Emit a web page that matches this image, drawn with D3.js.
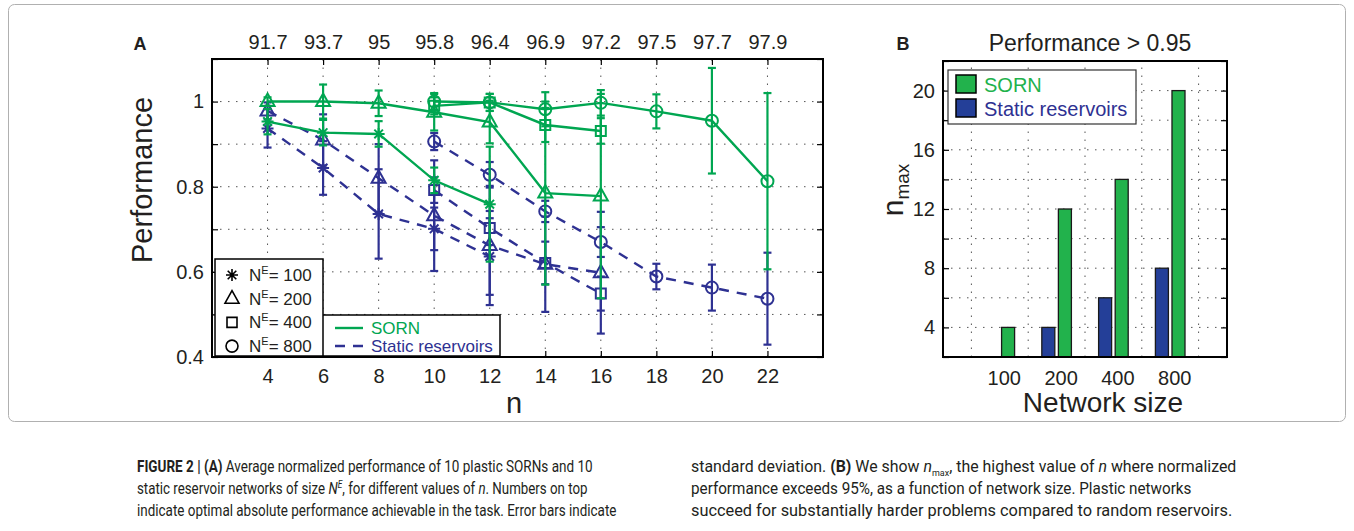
<!DOCTYPE html>
<html>
<head>
<meta charset="utf-8">
<script src="https://cdn.jsdelivr.net/npm/d3@7"></script>
<style>
  body { margin: 0; background: #fff; }
  svg text { font-family: "Liberation Sans", Arial, sans-serif; fill: #231f20; }
</style>
</head>
<body>
<script>
// ---- panel A data ----
var nTicks = [4, 6, 8, 10, 12, 14, 16, 18, 20, 22];
var optimalLabels = ["91.7", "93.7", "95", "95.8", "96.4", "96.9", "97.2", "97.5", "97.7", "97.9"];

var sornN100 = [4, 6, 8, 10, 12];
var sornPerf100 = [0.953, 0.927, 0.924, 0.815, 0.759];
var sornErr100 = [0.03, 0.03, 0.03, 0.03, 0.135];

var sornN200 = [4, 6, 8, 10, 12, 14, 16];
var sornPerf200 = [1.0, 1.0, 0.996, 0.975, 0.952, 0.785, 0.778];
var sornErr200 = [0.01, 0.04, 0.03, 0.043, 0.05, 0.215, 0.24];

var sornN400 = [10, 12, 14, 16];
var sornPerf400 = [0.99, 0.998, 0.945, 0.931];
var sornErr400 = [0.02, 0.02, 0.04, 0.03];

var sornN800 = [10, 12, 14, 16, 18, 20, 22];
var sornPerf800 = [1.0, 0.998, 0.982, 0.997, 0.977, 0.955, 0.813];
var sornErr800 = [0.02, 0.02, 0.04, 0.03, 0.04, 0.124, 0.207];

var staticN100 = [4, 6, 8, 10, 12];
var staticPerf100 = [0.937, 0.844, 0.736, 0.701, 0.636];
var staticErr100 = [0.045, 0.063, 0.105, 0.05, 0.09];

var staticN200 = [4, 6, 8, 10, 12, 14, 16];
var staticPerf200 = [0.978, 0.91, 0.82, 0.732, 0.662, 0.618, 0.598];
var staticErr200 = [0.02, 0.06, 0.08, 0.13, 0.14, 0.112, 0.143];

var staticN400 = [10, 12, 14, 16];
var staticPerf400 = [0.792, 0.703, 0.621, 0.549];
var staticErr400 = [0.03, 0.04, 0.05, 0.04];

var staticN800 = [10, 12, 14, 16, 18, 20, 22];
var staticPerf800 = [0.906, 0.828, 0.742, 0.670, 0.589, 0.563, 0.537];
var staticErr800 = [0.02, 0.03, 0.025, 0.035, 0.03, 0.054, 0.108];

// ---- panel B data ----
var networkSizes = ["100", "200", "400", "800"];
var nmaxSorn = [4, 12, 14, 20];
var nmaxStatic = [2, 4, 6, 8];

var green = "#00a651", blue = "#2e3192";
var barGreen = "#22b24c", barBlue = "#243f98";

var svg = d3.select("body").append("svg")
    .attr("width", 1354).attr("height", 531);

function rows(n, p, e) { return n.map(function(d, i) { return {n: d, p: p[i], e: e[i]}; }); }

var seriesA = [
  {net: 100, kind: "static", data: rows(staticN100, staticPerf100, staticErr100)},
  {net: 200, kind: "static", data: rows(staticN200, staticPerf200, staticErr200)},
  {net: 400, kind: "static", data: rows(staticN400, staticPerf400, staticErr400)},
  {net: 800, kind: "static", data: rows(staticN800, staticPerf800, staticErr800)},
  {net: 100, kind: "sorn", data: rows(sornN100, sornPerf100, sornErr100)},
  {net: 200, kind: "sorn", data: rows(sornN200, sornPerf200, sornErr200)},
  {net: 400, kind: "sorn", data: rows(sornN400, sornPerf400, sornErr400)},
  {net: 800, kind: "sorn", data: rows(sornN800, sornPerf800, sornErr800)}
];

function marker(net) {
  if (net == 100) return "M-6,0L6,0M0,-6L0,6M-4.3,-4.3L4.3,4.3M-4.3,4.3L4.3,-4.3";
  if (net == 200) return "M0,-8L7,4.5L-7,4.5Z";
  if (net == 400) return "M-5,-5h10v10h-10Z";
  return "M6,0A6,6 0 1,1 -6,0A6,6 0 1,1 6,0Z";
}

// frame round the figure
svg.append("rect").attr("x", 8.5).attr("y", 4.5).attr("width", 1337).attr("height", 417)
    .attr("rx", 6).attr("fill", "none").attr("stroke", "#b0b0b0").attr("stroke-width", 1);

// ================= panel A =================
var xA = d3.scaleLinear().domain([2, 24]).range([212, 823]);
var yA = d3.scaleLinear().domain([0.4, 1.1]).range([357, 59]);
var gA = svg.append("g");

var yGrid = d3.range(0.5, 1.05, 0.1);
gA.selectAll(".hg").data(yGrid).enter().append("line")
    .attr("x1", xA(2)).attr("x2", xA(24))
    .attr("y1", d => yA(d)).attr("y2", d => yA(d))
    .attr("stroke", "#555").attr("stroke-width", 1).attr("stroke-dasharray", "1.5,6.5");
gA.selectAll(".vg").data(nTicks).enter().append("line")
    .attr("x1", d => xA(d)).attr("x2", d => xA(d))
    .attr("y1", yA(0.4)).attr("y2", yA(1.1))
    .attr("stroke", "#555").attr("stroke-width", 1).attr("stroke-dasharray", "1.5,6.5");

// axes
gA.append("g").attr("transform", "translate(0," + yA(0.4) + ")")
    .call(d3.axisBottom(xA).tickValues(nTicks).tickSize(-6).tickPadding(12))
    .call(g => g.select(".domain").remove());
gA.append("g").attr("transform", "translate(0," + yA(1.1) + ")")
    .call(d3.axisTop(xA).tickValues(nTicks).tickSize(-6).tickPadding(10)
        .tickFormat((d, i) => optimalLabels[i]))
    .call(g => g.select(".domain").remove());
gA.append("g").attr("transform", "translate(" + xA(2) + ",0)")
    .call(d3.axisLeft(yA).tickValues(d3.range(0.4, 1.15, 0.1)).tickSize(-6).tickPadding(8)
        .tickFormat(d => (Math.round(d * 10) % 2 == 0 && d < 1.05) ? d3.format("~g")(+d.toFixed(1)) : ""))
    .call(g => g.select(".domain").remove());
gA.append("g").attr("transform", "translate(" + xA(24) + ",0)")
    .call(d3.axisRight(yA).tickValues(d3.range(0.4, 1.15, 0.1)).tickSize(-6).tickFormat(""))
    .call(g => g.select(".domain").remove());
gA.selectAll(".tick text").attr("font-size", 20).attr("fill", "#231f20");
gA.selectAll(".tick line").attr("stroke", "#000").attr("stroke-width", 1.2);

gA.append("rect").attr("x", xA(2)).attr("y", yA(1.1))
    .attr("width", xA(24) - xA(2)).attr("height", yA(0.4) - yA(1.1))
    .attr("fill", "none").attr("stroke", "#000").attr("stroke-width", 2);

// series
var line = d3.line().x(d => xA(d.n)).y(d => yA(d.p));
seriesA.forEach(function(s) {
  var col = s.kind == "sorn" ? green : blue;
  var g = gA.append("g");
  g.append("path").datum(s.data).attr("d", line).attr("fill", "none")
      .attr("stroke", col).attr("stroke-width", 2.4)
      .attr("stroke-dasharray", s.kind == "sorn" ? null : "10,8");
  var eb = g.selectAll(".eb").data(s.data).enter().append("g");
  eb.append("line").attr("x1", d => xA(d.n)).attr("x2", d => xA(d.n))
      .attr("y1", d => yA(d.p - d.e)).attr("y2", d => yA(d.p + d.e))
      .attr("stroke", col).attr("stroke-width", 2.2);
  [-1, 1].forEach(function(sg) {
    eb.append("line").attr("x1", d => xA(d.n) - 4).attr("x2", d => xA(d.n) + 4)
        .attr("y1", d => yA(d.p + sg * d.e)).attr("y2", d => yA(d.p + sg * d.e))
        .attr("stroke", col).attr("stroke-width", 2.2);
  });
  g.selectAll(".mk").data(s.data).enter().append("path")
      .attr("transform", d => "translate(" + xA(d.n) + "," + yA(d.p) + ")")
      .attr("d", marker(s.net)).attr("fill", "none")
      .attr("stroke", col).attr("stroke-width", 2);
});

// legends of panel A
var leg2 = gA.append("g");
leg2.append("rect").attr("x", 300).attr("y", 315).attr("width", 200).attr("height", 41)
    .attr("fill", "#fff").attr("stroke", "#000").attr("stroke-width", 1.5);
leg2.append("line").attr("x1", 335).attr("x2", 363).attr("y1", 328).attr("y2", 328)
    .attr("stroke", green).attr("stroke-width", 2.4);
leg2.append("line").attr("x1", 335).attr("x2", 363).attr("y1", 346).attr("y2", 346)
    .attr("stroke", blue).attr("stroke-width", 2.4).attr("stroke-dasharray", "10,8");
leg2.append("text").attr("x", 371).attr("y", 334).attr("font-size", 17).style("fill", green).text("SORN");
leg2.append("text").attr("x", 371).attr("y", 352).attr("font-size", 17).style("fill", blue).text("Static reservoirs");

var leg1 = gA.append("g");
leg1.append("rect").attr("x", 215).attr("y", 259).attr("width", 108).attr("height", 97)
    .attr("fill", "#fff").attr("stroke", "#000").attr("stroke-width", 1.5);
[100, 200, 400, 800].forEach(function(net, i) {
  var y = 275 + i * 23.7;
  leg1.append("path").attr("transform", "translate(232," + y + ")")
      .attr("d", marker(net)).attr("fill", "none").attr("stroke", "#000").attr("stroke-width", 1.6);
  var t = leg1.append("text").attr("x", 249).attr("y", y + 6).attr("font-size", 17);
  t.append("tspan").text("N");
  t.append("tspan").attr("font-size", 11).attr("dy", -7).text("E");
  t.append("tspan").attr("dy", 7).text("= " + net);
});

gA.append("text").attr("x", 514).attr("y", 413).attr("text-anchor", "middle")
    .attr("font-size", 29).text("n");
gA.append("text").attr("transform", "translate(152,180) rotate(-90)")
    .attr("text-anchor", "middle").attr("font-size", 29).text("Performance");
svg.append("text").attr("x", 140).attr("y", 50).attr("text-anchor", "middle")
    .attr("font-size", 18).attr("font-weight", "bold").text("A");

// ================= panel B =================
var xB = d3.scaleLinear().domain([0, 5]).range([943, 1227]);
var yB = d3.scaleLinear().domain([2, 22]).range([357, 61]);
var gB = svg.append("g");

gB.selectAll(".hg").data(d3.range(4, 21, 2)).enter().append("line")
    .attr("x1", xB(0)).attr("x2", xB(5)).attr("y1", d => yB(d)).attr("y2", d => yB(d))
    .attr("stroke", "#555").attr("stroke-width", 1).attr("stroke-dasharray", "1.5,6.5");
gB.selectAll(".vg").data([0.5, 1.5, 2.5, 3.5, 4.5]).enter().append("line")
    .attr("x1", d => xB(d)).attr("x2", d => xB(d)).attr("y1", yB(2)).attr("y2", yB(22))
    .attr("stroke", "#555").attr("stroke-width", 1).attr("stroke-dasharray", "1.5,6.5");

gB.append("g").attr("transform", "translate(" + xB(0) + ",0)")
    .call(d3.axisLeft(yB).tickValues(d3.range(2, 23, 2)).tickSize(-6).tickPadding(8)
        .tickFormat(d => (d % 4 == 0 && d <= 20) ? d : ""))
    .call(g => g.select(".domain").remove());
gB.append("g").attr("transform", "translate(" + xB(5) + ",0)")
    .call(d3.axisRight(yB).tickValues(d3.range(2, 23, 2)).tickSize(-6).tickFormat(""))
    .call(g => g.select(".domain").remove());
gB.append("g").attr("transform", "translate(4," + yB(2) + ")")
    .call(d3.axisBottom(xB).tickValues([1, 2, 3, 4]).tickSize(0).tickPadding(14)
        .tickFormat((d, i) => networkSizes[i]))
    .call(g => g.select(".domain").remove());
gB.selectAll(".tick text").attr("font-size", 20).attr("fill", "#231f20");
gB.selectAll(".tick line").attr("stroke", "#000").attr("stroke-width", 1.2);

var barW = 0.229, off = 0.146;
gB.selectAll(".bs").data(nmaxStatic).enter().append("rect")
    .attr("x", (d, i) => xB(i + 1 - off - barW / 2)).attr("width", xB(barW) - xB(0))
    .attr("y", d => yB(d)).attr("height", d => yB(2) - yB(d))
    .attr("fill", barBlue).attr("stroke", "#1a1a1a").attr("stroke-width", 1.3)
    .attr("display", d => d > 2 ? null : "none");
gB.selectAll(".bg").data(nmaxSorn).enter().append("rect")
    .attr("x", (d, i) => xB(i + 1 + off - barW / 2)).attr("width", xB(barW) - xB(0))
    .attr("y", d => yB(d)).attr("height", d => yB(2) - yB(d))
    .attr("fill", barGreen).attr("stroke", "#1a1a1a").attr("stroke-width", 1.3);

gB.append("rect").attr("x", xB(0)).attr("y", yB(22))
    .attr("width", xB(5) - xB(0)).attr("height", yB(2) - yB(22))
    .attr("fill", "none").attr("stroke", "#000").attr("stroke-width", 2);

var legB = gB.append("g");
legB.append("rect").attr("x", 948).attr("y", 70).attr("width", 188).attr("height", 54)
    .attr("fill", "#fff").attr("stroke", "#333").attr("stroke-width", 1.2);
legB.append("rect").attr("x", 956).attr("y", 75).attr("width", 20).attr("height", 18)
    .attr("fill", barGreen).attr("stroke", "#000").attr("stroke-width", 1.5);
legB.append("rect").attr("x", 956).attr("y", 99).attr("width", 20).attr("height", 18)
    .attr("fill", barBlue).attr("stroke", "#000").attr("stroke-width", 1.5);
legB.append("text").attr("x", 984).attr("y", 92).attr("font-size", 20).style("fill", barGreen).text("SORN");
legB.append("text").attr("x", 984).attr("y", 116).attr("font-size", 20).style("fill", blue).text("Static reservoirs");

svg.append("text").attr("x", 1090).attr("y", 51).attr("text-anchor", "middle")
    .attr("font-size", 23).text("Performance > 0.95");
svg.append("text").attr("x", 903).attr("y", 50).attr("text-anchor", "middle")
    .attr("font-size", 18).attr("font-weight", "bold").text("B");
svg.append("text").attr("x", 1103).attr("y", 412).attr("text-anchor", "middle")
    .attr("font-size", 28).text("Network size");
var yl = svg.append("text").attr("transform", "translate(903,190) rotate(-90)")
    .attr("text-anchor", "middle");
yl.append("tspan").attr("font-size", 30).text("n");
yl.append("tspan").attr("font-size", 19).attr("dy", 6).text("max");

// ================= caption =================
// each line is laid out naturally, then squeezed horizontally to the reference width
function capLine(x, y, len, parts) {
  var g = svg.append("g");
  var t = g.append("text").attr("x", 0).attr("y", 0).attr("font-size", 16)
      .style("font-family", "Roboto, sans-serif");
  parts.forEach(function(p) {
    var s = t.append("tspan").text(p.t);
    if (p.b) s.attr("font-weight", "bold");
    if (p.i) s.attr("font-style", "italic");
    if (p.sup) s.attr("font-size", 10).attr("dy", -6);
    if (p.sub) s.attr("font-size", 9).attr("dy", 4);
    if (p.back) s.attr("dy", p.back);
  });
  var w = t.node().getComputedTextLength();
  g.attr("transform", "translate(" + x + "," + y + ") scale(" + (len / w) + ",1)");
}
capLine(137, 472, 456, [{t: "FIGURE 2 | (A)", b: 1}, {t: " Average normalized performance of 10 plastic SORNs and 10"}]);
capLine(137, 494, 451, [{t: "static reservoir networks of size "}, {t: "N", i: 1}, {t: "E", i: 1, sup: 1},
  {t: ", for different values of ", back: 6}, {t: "n", i: 1}, {t: ". Numbers on top"}]);
capLine(137, 516, 480, [{t: "indicate optimal absolute performance achievable in the task. Error bars indicate"}]);
capLine(691, 472, 546, [{t: "standard deviation. "}, {t: "(B)", b: 1}, {t: " We show "}, {t: "n", i: 1},
  {t: "max", sub: 1}, {t: ", the highest value of ", back: -4}, {t: "n", i: 1}, {t: " where normalized"}]);
capLine(691, 494, 501, [{t: "performance exceeds 95%, as a function of network size. Plastic networks"}]);
capLine(691, 516, 542, [{t: "succeed for substantially harder problems compared to random reservoirs."}]);
</script>
</body>
</html>
